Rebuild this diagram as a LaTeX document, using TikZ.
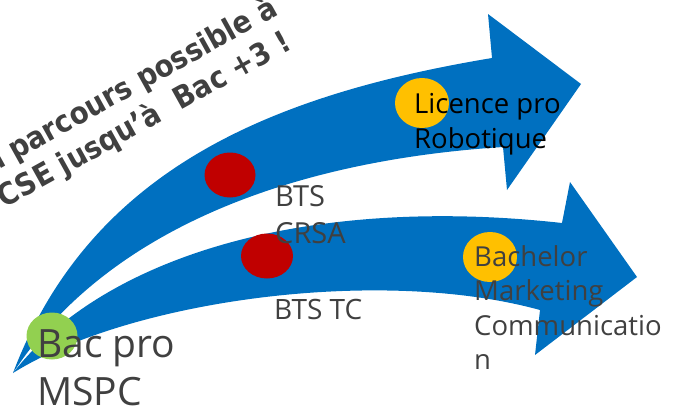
\documentclass[tikz,border=0pt]{standalone}
\usepackage{fontspec}
\setmainfont{Open Sans}
\newfontfamily\titlefont{DejaVu Sans Condensed}
\usetikzlibrary{shapes.geometric}
\definecolor{arrowblue}{HTML}{0070C0}
\definecolor{dotred}{HTML}{C00000}
\definecolor{dotgreen}{HTML}{92D050}
\definecolor{dotyellow}{HTML}{FFC000}
\definecolor{txtgray}{HTML}{404040}
\tikzset{
  arrowfill/.style={fill=arrowblue, draw=none},
  dot/.style={ellipse, draw=none, inner sep=0pt, minimum width=#1},
  lbl/.style={anchor=base west, align=left, inner sep=0pt, text=txtgray},
  titleline/.style={anchor=base east, inner sep=0pt, rotate=29, text=txtgray,
    font={\titlefont\bfseries\fontsize{30.5}{37}\selectfont}}
}
\begin{document}
\begin{tikzpicture}[x=1pt,y=-1pt]
\useasboundingbox (0,0) rectangle (678,407);
% arrows
\fill[arrowfill] (13,373) .. controls (90,170) and (270,95) .. (492,58)
  -- (488,14) -- (581,84) -- (507,190) -- (503,147)
  .. controls (300,160) and (110,225) .. (13,373) -- cycle;
\fill[arrowfill] (13,373) .. controls (105,255) and (310,195) .. (562,223)
  -- (570,182) -- (637,277) -- (535,355) -- (540,310)
  .. controls (380,266) and (130,300) .. (13,373) -- cycle;
% dots
\node[dot=51pt, minimum height=45pt, fill=dotred] (r1) at (230,175) {};
\node[dot=52pt, minimum height=45pt, fill=dotred] (r2) at (267,256) {};
\node[dot=51pt, minimum height=47pt, fill=dotgreen] (g1) at (52,336) {};
\node[dot=54pt, minimum height=50pt, fill=dotyellow] (y1) at (422,103) {};
\node[dot=54pt, minimum height=50pt, fill=dotyellow] (y2) at (490,257) {};
% labels (base anchor = baseline of the last line)
\node[lbl, font={\fontsize{39}{48}\selectfont}] (bac) at (37,405) {Bac pro\\MSPC};
\node[lbl, font={\fontsize{29}{37}\selectfont}] (crsa) at (275,243) {BTS\\CRSA};
\node[lbl, font={\fontsize{28}{35}\selectfont}] (tc) at (274,319) {BTS TC};
\node[lbl, text=black, font={\fontsize{27.5}{35}\selectfont}] (lic) at (414,148) {Licence pro\\Robotique};
\node[lbl, font={\fontsize{27.5}{34.5}\selectfont}] (bach) at (474,369.5) {Bachelor\\Marketing\\Communicatio\\n};
% title
\node[titleline] (t1) at (280,14) {Un parcours possible à};
\node[titleline] (t2) at (294,48) {CSE jusqu’à~ Bac +3 !};
\end{tikzpicture}
\end{document}
